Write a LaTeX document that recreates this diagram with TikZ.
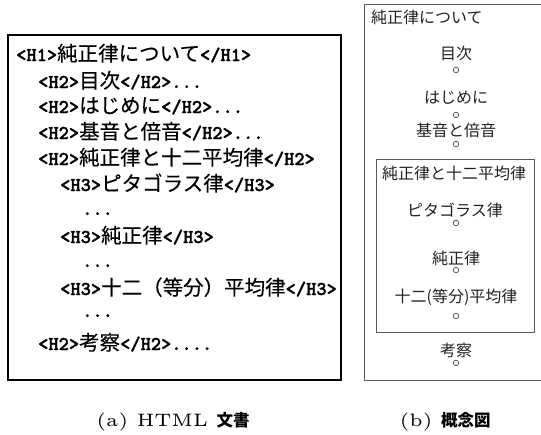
\documentclass[tikz,border=0pt]{standalone}
\usepackage{fontspec}
\newfontfamily\cjkfont{Noto Sans CJK JP}
\newfontfamily\cjkmed{Noto Sans CJK JP}[FakeBold=0.3]
\newfontfamily\ascfont{lmmonolt10-bold}[Extension=.otf, FakeBold=1.6]
\newcommand\Aa[1]{{\ascfont\fontsize{19.5}{22}\selectfont #1}}
\newcommand\Jj[1]{{\cjkmed\fontsize{20.5}{24}\selectfont #1}}
\newcommand\Rj[1]{{\cjkfont\fontsize{16}{19}\selectfont #1}}
\newcommand\Cl[1]{\scalebox{3.6}{\fontsize{5}{6}\selectfont #1}}
\newcommand\Cj[1]{{\cjkfont\bfseries\fontsize{16.5}{20}\selectfont #1}}
\definecolor{boxgray}{HTML}{5A5A5A}
\definecolor{txtgray}{HTML}{222222}
\tikzset{
  codeline/.style={anchor=base west, inner sep=0pt},
  concept/.style={inner sep=0pt, text=txtgray},
  dotmark/.style={circle, draw=boxgray, fill=white, line width=0.8pt, minimum size=5.5pt, inner sep=0pt},
  caption/.style={inner sep=0pt},
}
\begin{document}
\begin{tikzpicture}[x=1pt, y=-1pt]
\useasboundingbox (0,0) rectangle (541,434);
% left box: HTML document
\draw[line width=2pt] (8,35) rectangle (341,380);
\node[codeline] (l1)  at (16,61)  {\Aa{<H1>}\Jj{純正律について}\Aa{</H1>}};
\node[codeline] (l2)  at (38,88)  {\Aa{<H2>}\Jj{目次}\Aa{</H2>...}};
\node[codeline] (l3)  at (38,113) {\Aa{<H2>}\Jj{はじめに}\Aa{</H2>...}};
\node[codeline] (l4)  at (38,139) {\Aa{<H2>}\Jj{基音と倍音}\Aa{</H2>...}};
\node[codeline] (l5)  at (38,165) {\Aa{<H2>}\Jj{純正律と十二平均律}\Aa{</H2>}};
\node[codeline] (l6)  at (60,191) {\Aa{<H3>}\Jj{ピタゴラス律}\Aa{</H3>}};
\node[codeline] (l7)  at (82,215) {\Aa{...}};
\node[codeline] (l8)  at (60,243) {\Aa{<H3>}\Jj{純正律}\Aa{</H3>}};
\node[codeline] (l9)  at (82,267) {\Aa{...}};
\node[codeline] (l10) at (60,295) {\Aa{<H3>}\Jj{十二（等分）平均律}\Aa{</H3>}};
\node[codeline] (l11) at (82,317) {\Aa{...}};
\node[codeline] (l12) at (38,350) {\Aa{<H2>}\Jj{考察}\Aa{</H2>....}};
% right box: concept diagram
\draw[boxgray, line width=1pt] (541,4) -- (364,4) -- (364,380) -- (541,380);
\draw[boxgray, line width=1pt] (376,159) rectangle (534,332);
\node[concept, anchor=west] (r0) at (371,17) {\Rj{純正律について}};
\node[concept] (r1) at (456,53) {\Rj{目次}};
\node[dotmark] (c1) at (456,70) {};
\node[concept] (r2) at (456,98) {\Rj{はじめに}};
\node[dotmark] (c2) at (456,115) {};
\node[concept] (r3) at (456,130) {\Rj{基音と倍音}};
\node[dotmark] (c3) at (456,144) {};
\node[concept, anchor=west] (r4) at (382,173) {\Rj{純正律と十二平均律}};
\node[concept] (r5) at (455,210) {\Rj{ピタゴラス律}};
\node[dotmark] (c5) at (456,223) {};
\node[concept] (r6) at (456,258) {\Rj{純正律}};
\node[dotmark] (c6) at (456,270) {};
\node[concept] (r7) at (456,297) {\Rj{十二(等分)平均律}};
\node[dotmark] (c7) at (456,316) {};
\node[concept] (r8) at (456,350) {\Rj{考察}};
\node[dotmark] (c8) at (456,363) {};
% captions
\node[caption] (capa) at (173,422) {\Cl{(a) HTML\ }\Cj{文書}};
\node[caption] (capb) at (445,422) {\Cl{(b)\ }\Cj{概念図}};
\end{tikzpicture}
\end{document}
